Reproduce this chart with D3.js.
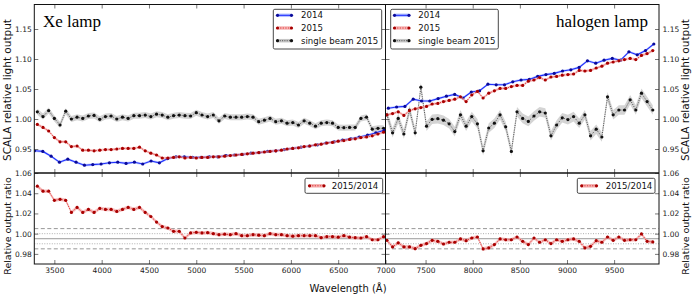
<!DOCTYPE html>
<html><head><meta charset="utf-8">
<script src="https://cdn.jsdelivr.net/npm/d3@7"></script>
<style>body{margin:0;background:#fff} svg{display:block}</style>
</head><body><svg id="c" width="694" height="300"></svg>
<script>
// ---------- data ----------
const xeWl2014 = [3290,3378,3466,3554,3642,3730,3818,3906,3994,4082,4170,4258,4346,4434,4522,4610,4698,4786,4874,4962,5050,5138,5226,5314,5402,5490,5578,5666,5754,5842,5930,6018,6106,6194,6282,6370,6458,6546,6634,6722,6810,6898,6986];
const xe2014 = [0.947,0.946,0.938,0.928,0.933,0.928,0.923,0.924,0.925,0.927,0.928,0.926,0.928,0.925,0.930,0.927,0.934,0.937,0.937,0.936,0.936,0.937,0.937,0.939,0.940,0.941,0.943,0.944,0.946,0.947,0.949,0.951,0.953,0.955,0.957,0.960,0.962,0.965,0.967,0.970,0.973,0.977,0.981];
const xeWl = [3320,3380,3440,3500,3560,3620,3680,3740,3800,3860,3920,3980,4040,4100,4160,4220,4280,4340,4400,4460,4520,4580,4640,4700,4760,4820,4880,4940,5000,5060,5120,5180,5240,5300,5360,5420,5480,5540,5600,5660,5720,5780,5840,5900,5960,6020,6080,6140,6200,6260,6320,6380,6440,6500,6560,6620,6680,6740,6800,6860,6920,6980];
const xe2015 = [0.991,0.986,0.980,0.969,0.962,0.962,0.954,0.955,0.948,0.948,0.947,0.948,0.949,0.949,0.950,0.951,0.951,0.951,0.953,0.947,0.943,0.940,0.935,0.935,0.936,0.937,0.935,0.936,0.935,0.936,0.936,0.937,0.937,0.938,0.939,0.940,0.941,0.942,0.943,0.944,0.945,0.946,0.947,0.948,0.950,0.951,0.952,0.954,0.955,0.957,0.958,0.960,0.961,0.963,0.964,0.966,0.967,0.969,0.970,0.972,0.975,0.978];
const xeSingle = [1.012,1.004,1.014,1.001,0.990,1.013,1.000,1.003,1.001,1.005,1.006,0.9995,1.004,1.005,1.000,1.003,1.001,1.0055,1.0055,1.0065,1.004,1.008,1.0065,1.003,1.0055,1.0065,1.0055,1.005,1.0105,1.0067,1.004,1.0067,0.997,1.005,1.003,1.003,1.003,1.004,1.003,0.9955,0.998,1.001,0.9955,0.997,0.993,0.994,0.990,0.997,0.993,0.988,0.993,0.994,0.993,0.986,0.9855,0.986,0.986,1.001,1.003,0.983,0.9845,0.9845];
const xeRatio = [1.047,1.042,1.042,1.033,1.034,1.033,1.021,1.026,1.021,1.024,1.021,1.025,1.024,1.024,1.022,1.024,1.026,1.024,1.026,1.021,1.017,1.0115,1.007,1.0056,1.0023,1.0023,0.9957,1.0007,1.0013,1.0007,1.001,1.000,0.999,0.9995,0.999,1.000,0.998,0.998,0.999,0.9985,0.998,1.000,0.999,0.999,0.998,0.9975,0.998,0.998,0.998,0.998,0.996,0.997,0.997,0.9965,0.998,0.9965,0.996,0.9957,0.997,0.994,0.994,0.997];

const halWl2014 = [7105,7193,7281,7369,7457,7545,7633,7721,7809,7897,7985,8073,8161,8249,8337,8425,8513,8601,8689,8777,8865,8953,9041,9129,9217,9305,9393,9481,9569,9657,9745,9833,9921];
const hal2014 = [1.018,1.020,1.021,1.033,1.030,1.030,1.034,1.038,1.041,1.035,1.045,1.047,1.058,1.057,1.057,1.062,1.065,1.066,1.071,1.074,1.076,1.080,1.082,1.086,1.097,1.093,1.098,1.101,1.098,1.112,1.107,1.114,1.125];
const halWl = [7090,7150,7210,7270,7330,7390,7450,7510,7570,7630,7690,7750,7810,7870,7930,7990,8050,8110,8170,8230,8290,8350,8410,8470,8530,8590,8650,8710,8770,8830,8890,8950,9010,9070,9130,9190,9250,9310,9370,9430,9490,9550,9610,9670,9730,9790,9850,9910];
const hal2015 = [1.007,1.009,1.012,1.006,1.014,1.017,1.019,1.021,1.025,1.026,1.029,1.031,1.033,1.037,1.029,1.040,1.046,1.035,1.043,1.047,1.051,1.051,1.054,1.056,1.056,1.063,1.065,1.069,1.065,1.070,1.071,1.073,1.074,1.075,1.081,1.080,1.081,1.085,1.088,1.093,1.095,1.097,1.099,1.101,1.099,1.106,1.109,1.114];
const halSingle = [1.007,0.977,1.001,0.975,1.015,0.977,1.053,0.988,0.9995,1.0005,0.998,0.992,0.979,1.007,0.988,1.004,0.992,0.947,0.985,0.993,1.007,0.987,0.946,1.012,1.001,0.996,1.005,1.012,1.010,0.972,0.990,1.002,0.999,1.004,0.993,1.007,0.972,0.983,0.970,1.037,1.007,1.015,1.015,1.032,1.015,1.043,1.029,1.015];
const halRatio = [0.9934,0.9869,0.9909,0.9869,0.9869,0.9852,0.9885,0.9902,0.9934,0.9924,0.9898,0.9915,0.9915,0.9948,0.9931,0.9957,0.9967,0.9849,0.9859,0.9892,0.9948,0.994,0.994,0.9967,0.9924,0.9892,0.9957,0.9915,0.994,0.9902,0.994,0.9924,0.994,0.9948,0.9924,0.9859,0.9875,0.9931,0.9915,0.9967,0.9934,0.9967,0.9934,0.994,0.994,0.9997,0.9924,0.9918];

const err2014 = 0.0022, err2015 = 0.0022, errXeSingle = 0.005, errHalSingle = 0.008, errRatio = 0.0018;
const topTicks = [0.95, 1.00, 1.05, 1.10, 1.15];
const botTicks = [0.98, 1.00, 1.02, 1.04, 1.06];
const xTicksL = [3500, 4000, 4500, 5000, 5500, 6000, 6500, 7000];
const xTicksR = [7500, 8000, 8500, 9000, 9500];
const refLines = [{v:1.005, t:"dash"}, {v:1.000, t:"dot"}, {v:0.995, t:"solid"}, {v:0.990, t:"dot"}, {v:0.985, t:"dash"}];
const legendTop = ["2014", "2015", "single beam 2015"];
const legendBot = ["2015/2014"];

// ---------- layout ----------
const svg = d3.select("#c");
const X0 = 34.3, XM = 385.5, X1 = 659, Y0 = 4.5, YM = 173, Y1 = 264;
const xL = d3.scaleLinear().domain([3288, 7000]).range([X0, XM]);
const xR = d3.scaleLinear().domain([7075, 9976]).range([XM, X1]);
const yT = d3.scaleLinear().domain([0.91, 1.19]).range([YM, 5]);
const yB = d3.scaleLinear().domain([0.97, 1.06]).range([Y1, YM]);

const sans = "DejaVu Sans, Verdana, sans-serif";
const defs = svg.append("defs");
function clip(id, x, y, w, h) { defs.append("clipPath").attr("id", id).append("rect").attr("x", x).attr("y", y).attr("width", w).attr("height", h); }
clip("cTL", X0, Y0, XM - X0, YM - Y0);
clip("cTR", XM, Y0, X1 - XM, YM - Y0);
clip("cBL", X0, YM, XM - X0, Y1 - YM);
clip("cBR", XM, YM, X1 - XM, Y1 - YM);

const styles = {
  s2014: {band:"#9fb0ff", bandOp:0.55, line:"#1f2fff", dash:null, lw:1.1, mk:"#0a0a9a"},
  s2015: {band:"#f4a4a4", bandOp:0.6, line:"#e23a3a", dash:"1.3,1.3", lw:1, mk:"#a80000"},
  sSingle: {band:"#b8b8b8", bandOp:0.6, line:"#444", dash:"1,1.3", lw:0.9, mk:"#111"},
  sRatio: {band:"#f4a8a8", bandOp:0.7, line:"#e23a3a", dash:"1.3,1.3", lw:1, mk:"#a80000"}
};

function series(g, xs, ys, err, x, y, st) {
  const d = xs.map((w, i) => ({w, v: ys[i]}));
  g.append("path").datum(d)
    .attr("d", d3.area().x(p => x(p.w)).y0(p => y(p.v - err)).y1(p => y(p.v + err)))
    .attr("fill", st.band).attr("opacity", st.bandOp);
  g.append("path").datum(d)
    .attr("d", d3.line().x(p => x(p.w)).y(p => y(p.v)))
    .attr("fill", "none").attr("stroke", st.line).attr("stroke-width", st.lw)
    .attr("stroke-dasharray", st.dash);
  g.selectAll(null).data(d).enter().append("circle")
    .attr("cx", p => x(p.w)).attr("cy", p => y(p.v)).attr("r", 1.6).attr("fill", st.mk);
}

// reference lines in ratio panels
function refs(g, x0, x1, y) {
  refLines.forEach(r => {
    const l = g.append("line").attr("x1", x0).attr("x2", x1).attr("y1", y(r.v)).attr("y2", y(r.v));
    if (r.t === "dash") l.attr("stroke", "#8a8a8a").attr("stroke-width", 0.9).attr("stroke-dasharray", "4,2.5");
    else if (r.t === "dot") l.attr("stroke", "#9a9a9a").attr("stroke-width", 0.8).attr("stroke-dasharray", "1,1.5");
    else l.attr("stroke", "#9a9a9a").attr("stroke-width", 1);
  });
}

const gTL = svg.append("g").attr("clip-path", "url(#cTL)");
series(gTL, xeWl, xeSingle, errXeSingle, xL, yT, styles.sSingle);
series(gTL, xeWl2014, xe2014, err2014, xL, yT, styles.s2014);
series(gTL, xeWl, xe2015, err2015, xL, yT, styles.s2015);

const gTR = svg.append("g").attr("clip-path", "url(#cTR)");
series(gTR, halWl, halSingle, errHalSingle, xR, yT, styles.sSingle);
series(gTR, halWl2014, hal2014, err2014, xR, yT, styles.s2014);
series(gTR, halWl, hal2015, err2015, xR, yT, styles.s2015);

const gBL = svg.append("g").attr("clip-path", "url(#cBL)");
refs(gBL, X0, XM, yB);
series(gBL, xeWl, xeRatio, errRatio, xL, yB, styles.sRatio);
const gBR = svg.append("g").attr("clip-path", "url(#cBR)");
refs(gBR, XM, X1, yB);
series(gBR, halWl, halRatio, errRatio, xR, yB, styles.sRatio);

// ---------- axes ----------
const tickCol = "#555";
function styleAxis(g, showText) {
  g.select(".domain").remove();
  g.selectAll(".tick line").attr("stroke", tickCol).attr("stroke-width", 0.8);
  g.selectAll(".tick text").attr("font-family", sans).attr("font-size", 7.5).attr("fill", "#222");
  if (!showText) g.selectAll(".tick text").remove();
}
const fmt = d3.format(".2f");
// left y axes
styleAxis(svg.append("g").attr("transform", `translate(${X0},0)`).call(d3.axisLeft(yT).tickValues(topTicks).tickFormat(fmt).tickSize(-4).tickPadding(2.5)), true);
styleAxis(svg.append("g").attr("transform", `translate(${X0},0)`).call(d3.axisLeft(yB).tickValues(botTicks).tickFormat(fmt).tickSize(-4).tickPadding(2.5)), true);
// right y axes (labels)
styleAxis(svg.append("g").attr("transform", `translate(${X1},0)`).call(d3.axisRight(yT).tickValues(topTicks).tickFormat(fmt).tickSize(-4).tickPadding(3.5)), true);
styleAxis(svg.append("g").attr("transform", `translate(${X1},0)`).call(d3.axisRight(yB).tickValues(botTicks).tickFormat(fmt).tickSize(-4).tickPadding(3.5)), true);
// divider ticks (no labels)
styleAxis(svg.append("g").attr("transform", `translate(${XM},0)`).call(d3.axisRight(yT).tickValues(topTicks).tickSize(-4)), false);
styleAxis(svg.append("g").attr("transform", `translate(${XM},0)`).call(d3.axisRight(yB).tickValues(botTicks).tickSize(-4)), false);
styleAxis(svg.append("g").attr("transform", `translate(${XM},0)`).call(d3.axisLeft(yT).tickValues(topTicks).tickSize(-4)), false);
styleAxis(svg.append("g").attr("transform", `translate(${XM},0)`).call(d3.axisLeft(yB).tickValues(botTicks).tickSize(-4)), false);
// x axes
styleAxis(svg.append("g").attr("transform", `translate(0,${Y1})`).call(d3.axisBottom(xL).tickValues(xTicksL).tickFormat(d3.format("d")).tickSize(-4).tickPadding(3.5)), true);
styleAxis(svg.append("g").attr("transform", `translate(0,${Y1})`).call(d3.axisBottom(xR).tickValues(xTicksR).tickFormat(d3.format("d")).tickSize(-4).tickPadding(3.5)), true);
styleAxis(svg.append("g").attr("transform", `translate(0,${YM})`).call(d3.axisBottom(xL).tickValues(xTicksL.slice(0, -1)).tickSize(-4)), false);
styleAxis(svg.append("g").attr("transform", `translate(0,${YM})`).call(d3.axisBottom(xR).tickValues(xTicksR).tickSize(-4)), false);
styleAxis(svg.append("g").attr("transform", `translate(0,${YM})`).call(d3.axisTop(xL).tickValues(xTicksL.slice(0, -1)).tickSize(-4)), false);
styleAxis(svg.append("g").attr("transform", `translate(0,${YM})`).call(d3.axisTop(xR).tickValues(xTicksR).tickSize(-4)), false);
styleAxis(svg.append("g").attr("transform", `translate(0,${Y0})`).call(d3.axisTop(xL).tickValues(xTicksL.slice(0, -1)).tickSize(-4)), false);
styleAxis(svg.append("g").attr("transform", `translate(0,${Y0})`).call(d3.axisTop(xR).tickValues(xTicksR).tickSize(-4)), false);

// frames
const fr = svg.append("g").attr("fill", "none").attr("stroke", "#111").attr("stroke-width", 1);
fr.append("rect").attr("x", X0).attr("y", Y0).attr("width", X1 - X0).attr("height", Y1 - Y0);
fr.append("line").attr("x1", XM).attr("x2", XM).attr("y1", Y0).attr("y2", Y1);
fr.append("line").attr("x1", X0).attr("x2", X1).attr("y1", YM).attr("y2", YM).attr("stroke-width", 1.3);

// ---------- legends ----------
const legStyles = [styles.s2014, styles.s2015, styles.sSingle];
function legend(x, y, w, h, labels, sts, sx0, sx1, tx, rowY) {
  const g = svg.append("g");
  g.append("rect").attr("x", x).attr("y", y).attr("width", w).attr("height", h)
    .attr("fill", "#fff").attr("stroke", "#333").attr("stroke-width", 0.9).attr("rx", 1.5);
  labels.forEach((lab, i) => {
    const st = sts[i], cy = rowY[i];
    g.append("line").attr("x1", sx0).attr("x2", sx1).attr("y1", cy).attr("y2", cy)
      .attr("stroke", st.band).attr("stroke-width", 3.5).attr("opacity", st.bandOp + 0.2);
    g.append("line").attr("x1", sx0).attr("x2", sx1).attr("y1", cy).attr("y2", cy)
      .attr("stroke", st.line).attr("stroke-width", st.lw).attr("stroke-dasharray", st.dash);
    [sx0, sx1].forEach(px => g.append("circle").attr("cx", px).attr("cy", cy).attr("r", 1.6).attr("fill", st.mk));
    g.append("text").attr("x", tx).attr("y", cy + 3.1).attr("font-family", sans).attr("font-size", 8.6)
      .attr("fill", "#111").text(lab);
  });
}
legend(273.3, 9.3, 108.4, 39.7, legendTop, legStyles, 277.5, 291.5, 301, [15.3, 28, 40.7]);
legend(390.7, 9.3, 107.6, 39.7, legendTop, legStyles, 394.5, 409, 418.3, [15.3, 28, 40.7]);
legend(305, 178.3, 77.7, 15, legendBot, [styles.sRatio], 309.5, 324, 331.7, [185.8]);
legend(577.3, 178.3, 77.7, 15, legendBot, [styles.sRatio], 581.7, 596.5, 605.7, [185.8]);

// ---------- titles and labels ----------
const serif = "Liberation Serif, Times New Roman, serif";
svg.append("text").attr("x", 43).attr("y", 27).attr("font-family", serif).attr("font-size", 17).attr("fill", "#000").text("Xe lamp");
svg.append("text").attr("x", 648).attr("y", 27).attr("text-anchor", "end").attr("font-family", serif).attr("font-size", 17).attr("fill", "#000").text("halogen lamp");

function ylab(x, y, size, txt) {
  svg.append("text").attr("transform", `translate(${x},${y}) rotate(-90)`).attr("text-anchor", "middle")
    .attr("font-family", sans).attr("font-size", size).attr("fill", "#111").text(txt);
}
ylab(11, 90, 10.5, "SCALA relative light output");
ylab(689, 90, 10.5, "SCALA relative light output");
ylab(11, 226, 9.5, "Relative output ratio");
ylab(689, 226, 9.5, "Relative output ratio");
svg.append("text").attr("x", 348).attr("y", 292).attr("text-anchor", "middle").attr("font-family", sans)
  .attr("font-size", 10).attr("fill", "#111").text("Wavelength (Å)");
</script></body></html>
